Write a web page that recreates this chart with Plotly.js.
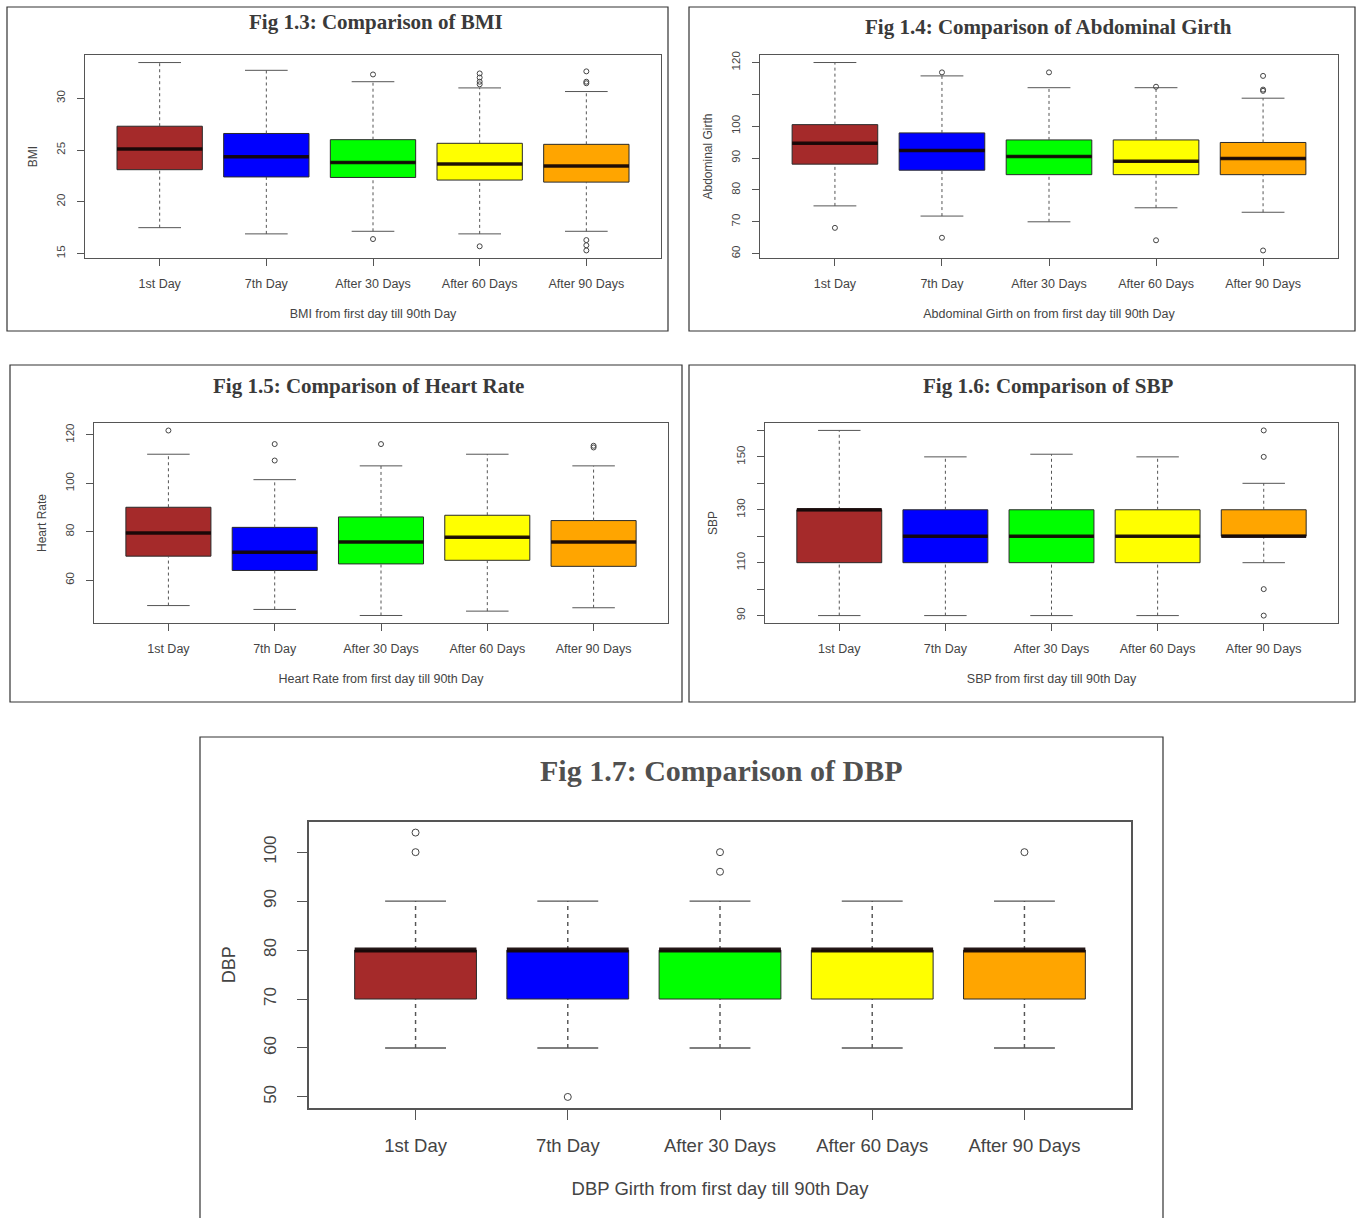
<!DOCTYPE html>
<html>
<head>
<meta charset="utf-8">
<script src="https://cdn.plot.ly/plotly-3.0.1.min.js"></script>
<style>
html,body{margin:0;padding:0;background:#ffffff;}
#chart{width:1361px;height:1218px;}
</style>
</head>
<body>
<div id="chart"></div>
<script>
// ---------- DATA ----------
const categories = ['1st Day', '7th Day', 'After 30 Days', 'After 60 Days', 'After 90 Days'];

// Fig 1.3 BMI
const bmiQ1     = [23.1, 22.4, 22.35, 22.1, 21.9];
const bmiMedian = [25.1, 24.35, 23.8, 23.65, 23.45];
const bmiQ3     = [27.3, 26.6, 26.0, 25.65, 25.55];
const bmiLower  = [17.5, 16.9, 17.15, 16.9, 17.15];
const bmiUpper  = [33.45, 32.7, 31.6, 31.0, 30.65];
const bmiOutCat = ['After 30 Days', 'After 30 Days', 'After 60 Days', 'After 60 Days', 'After 60 Days', 'After 60 Days', 'After 60 Days', 'After 90 Days', 'After 90 Days', 'After 90 Days', 'After 90 Days', 'After 90 Days', 'After 90 Days'];
const bmiOutVal = [32.3, 16.4, 32.4, 32.0, 31.6, 31.35, 15.7, 32.6, 31.6, 31.45, 16.3, 15.8, 15.3];
const bmiTickVals = [15, 20, 25, 30];
const bmiTickText = ['15', '20', '25', '30'];

// Fig 1.4 Abdominal Girth
const agQ1     = [88.1, 86.2, 84.8, 84.8, 84.8];
const agMedian = [94.65, 92.4, 90.5, 89.0, 89.9];
const agQ3     = [100.5, 97.9, 95.7, 95.7, 94.9];
const agLower  = [75.0, 71.8, 70.0, 74.4, 73.0];
const agUpper  = [120, 115.8, 112.1, 112.1, 108.8];
const agOutCat = ['1st Day', '7th Day', '7th Day', 'After 30 Days', 'After 60 Days', 'After 60 Days', 'After 90 Days', 'After 90 Days', 'After 90 Days', 'After 90 Days'];
const agOutVal = [68.1, 116.9, 65.0, 116.9, 112.4, 64.2, 115.8, 111.5, 111.1, 61.0];
const agTickVals = [60, 70, 80, 90, 100, 110, 120];
const agTickText = ['60', '70', '80', '90', '100', '', '120'];

// Fig 1.5 Heart Rate
const hrQ1     = [69.9, 64.0, 66.7, 68.2, 65.7];
const hrMedian = [79.5, 71.5, 75.8, 77.7, 75.8];
const hrQ3     = [90.1, 81.8, 86.1, 86.8, 84.6];
const hrLower  = [49.5, 47.9, 45.4, 47.2, 48.6];
const hrUpper  = [112.0, 101.5, 107.2, 112.0, 107.2];
const hrOutCat = ['1st Day', '7th Day', '7th Day', 'After 30 Days', 'After 90 Days', 'After 90 Days'];
const hrOutVal = [121.8, 116.2, 109.4, 116.2, 115.5, 114.8];
const hrTickVals = [60, 80, 100, 120];
const hrTickText = ['60', '80', '100', '120'];

// Fig 1.6 SBP
const sbpQ1     = [110, 110, 110, 110, 120];
const sbpMedian = [130, 120, 120, 120, 120];
const sbpQ3     = [130, 130, 130, 130, 130];
const sbpLower  = [90, 90, 90, 90, 110];
const sbpUpper  = [160, 150, 151, 150, 140];
const sbpOutCat = ['After 90 Days', 'After 90 Days', 'After 90 Days', 'After 90 Days'];
const sbpOutVal = [160, 150, 100, 90];
const sbpTickVals = [90, 100, 110, 120, 130, 140, 150, 160];
const sbpTickText = ['90', '', '110', '', '130', '', '150', ''];

// Fig 1.7 DBP
const dbpQ1     = [70, 70, 70, 70, 70];
const dbpMedian = [80, 80, 80, 80, 80];
const dbpQ3     = [80, 80, 80, 80, 80];
const dbpLower  = [60, 60, 60, 60, 60];
const dbpUpper  = [90, 90, 90, 90, 90];
const dbpOutCat = ['1st Day', '1st Day', '7th Day', 'After 30 Days', 'After 30 Days', 'After 90 Days'];
const dbpOutVal = [104, 100, 50, 100, 96, 100];
const dbpTickVals = [50, 60, 70, 80, 90, 100];
const dbpTickText = ['50', '60', '70', '80', '90', '100'];

// ---------- STYLE / LAYOUT ----------
const boxColors = ['#A52A2A', '#0000FF', '#00FF00', '#FFFF00', '#FFA500'];
const W = 1361, H = 1218;

const panels = [
  {id: '', q1: bmiQ1, med: bmiMedian, q3: bmiQ3, lo: bmiLower, hi: bmiUpper, oc: bmiOutCat, ov: bmiOutVal,
   tv: bmiTickVals, tt: bmiTickText, range: [14.57, 34.18], px: [85, 661], py: [55, 258],
   title: 'Fig 1.3: Comparison of BMI', tx: 376, ty: 22, ytitle: 'BMI', xtitle: 'BMI from first day till 90th Day',
   frame: [7, 7, 668, 331], big: false},
  {id: '2', q1: agQ1, med: agMedian, q3: agQ3, lo: agLower, hi: agUpper, oc: agOutCat, ov: agOutVal,
   tv: agTickVals, tt: agTickText, range: [58.64, 122.36], px: [760, 1338], py: [55, 258],
   title: 'Fig 1.4: Comparison of Abdominal Girth', tx: 1048, ty: 27, ytitle: 'Abdominal Girth', xtitle: 'Abdominal Girth on from first day till 90th Day',
   frame: [689, 7, 1355, 331], big: false},
  {id: '3', q1: hrQ1, med: hrMedian, q3: hrQ3, lo: hrLower, hi: hrUpper, oc: hrOutCat, ov: hrOutVal,
   tv: hrTickVals, tt: hrTickText, range: [42.3, 124.9], px: [94, 668], py: [423, 623],
   title: 'Fig 1.5: Comparison of Heart Rate', tx: 368, ty: 386, ytitle: 'Heart Rate', xtitle: 'Heart Rate from first day till 90th Day',
   frame: [10, 365, 682, 702], big: false},
  {id: '4', q1: sbpQ1, med: sbpMedian, q3: sbpQ3, lo: sbpLower, hi: sbpUpper, oc: sbpOutCat, ov: sbpOutVal,
   tv: sbpTickVals, tt: sbpTickText, range: [87.2, 162.8], px: [765, 1338], py: [423, 623],
   title: 'Fig 1.6: Comparison of SBP', tx: 1048, ty: 386, ytitle: 'SBP', xtitle: 'SBP from first day till 90th Day',
   frame: [689, 365, 1355, 702], big: false},
  {id: '5', q1: dbpQ1, med: dbpMedian, q3: dbpQ3, lo: dbpLower, hi: dbpUpper, oc: dbpOutCat, ov: dbpOutVal,
   tv: dbpTickVals, tt: dbpTickText, range: [47.84, 106.16], px: [309, 1131], py: [822, 1107.5],
   title: 'Fig 1.7: Comparison of DBP', tx: 721, ty: 770, ytitle: 'DBP', xtitle: 'DBP Girth from first day till 90th Day',
   frame: [200, 737, 1163, 1240], big: true}
];

const traces = [];
const layout = {
  width: W, height: H,
  margin: {l: 0, r: 0, t: 0, b: 0, pad: 0},
  paper_bgcolor: '#ffffff', plot_bgcolor: '#ffffff',
  showlegend: false, boxmode: 'overlay',
  annotations: [], shapes: []
};

panels.forEach(p => {
  const xa = 'x' + p.id, ya = 'y' + p.id;
  const pos = categories.map((c, i) => i + 1);
  const s = p.big ? 1.45 : 1;

  // boxes
  categories.forEach((c, i) => {
    traces.push({
      type: 'box', xaxis: xa, yaxis: ya, x: [pos[i]],
      q1: [p.q1[i]], median: [p.med[i]], q3: [p.q3[i]],
      lowerfence: [p.q1[i]], upperfence: [p.q3[i]],
      width: 0.8, whiskerwidth: 0, boxpoints: false,
      fillcolor: boxColors[i], line: {color: '#2a2a2a', width: 1},
      hoverinfo: 'skip', name: c
    });
  });

  // dashed whiskers, staples and thick medians
  const wx = [], wy = [], cx = [], cy = [], mx = [], my = [];
  categories.forEach((c, i) => {
    wx.push(pos[i], pos[i], null, pos[i], pos[i], null);
    wy.push(p.lo[i], p.q1[i], null, p.q3[i], p.hi[i], null);
    cx.push(pos[i] - 0.2, pos[i] + 0.2, null, pos[i] - 0.2, pos[i] + 0.2, null);
    cy.push(p.lo[i], p.lo[i], null, p.hi[i], p.hi[i], null);
    mx.push(pos[i] - 0.4, pos[i] + 0.4, null);
    my.push(p.med[i], p.med[i], null);
  });
  traces.push({type: 'scatter', mode: 'lines', xaxis: xa, yaxis: ya, x: wx, y: wy,
    line: {color: '#555', width: 1 * s, dash: p.big ? '4px,4px' : '3px,3px'}, hoverinfo: 'skip', connectgaps: false});
  traces.push({type: 'scatter', mode: 'lines', xaxis: xa, yaxis: ya, x: cx, y: cy,
    line: {color: '#555', width: 1 * s}, hoverinfo: 'skip', connectgaps: false});
  traces.push({type: 'scatter', mode: 'lines', xaxis: xa, yaxis: ya, x: mx, y: my,
    line: {color: 'rgba(20,5,5,0.92)', width: 3.5 * s}, hoverinfo: 'skip', connectgaps: false});

  // outliers
  traces.push({type: 'scatter', mode: 'markers', xaxis: xa, yaxis: ya,
    x: p.oc.map(c => categories.indexOf(c) + 1), y: p.ov,
    marker: {symbol: 'circle-open', size: p.big ? 7 : 5, color: '#444', line: {width: 1, color: '#444'}},
    hoverinfo: 'skip', cliponaxis: false});

  const xTickFont = {family: 'Liberation Sans, Arial, sans-serif', size: p.big ? 18.5 : 12.5, color: '#444'};
  const yTickFont = {family: 'Liberation Sans, Arial, sans-serif', size: p.big ? 17 : 11.5, color: '#444'};
  const xTitleFont = {family: 'Liberation Sans, Arial, sans-serif', size: p.big ? 18.5 : 12.5, color: '#444'};
  const yTitleFont = {family: 'Liberation Sans, Arial, sans-serif', size: p.big ? 18 : 12, color: '#444'};

  layout['xaxis' + p.id] = {
    domain: [p.px[0] / W, p.px[1] / W], anchor: ya,
    range: [0.3, 5.7], tickmode: 'array', tickvals: pos, ticktext: categories,
    ticks: 'outside', ticklen: p.big ? 10 : 7, tickwidth: 1, tickcolor: '#555',
    ticklabelstandoff: p.big ? 10 : 7,
    showline: true, mirror: true, linecolor: '#555', linewidth: p.big ? 2 : 1,
    showgrid: false, zeroline: false, tickfont: xTickFont,
    title: {text: p.xtitle, font: xTitleFont, standoff: p.big ? 27 : 19},
    fixedrange: true
  };
  layout['yaxis' + p.id] = {
    domain: [1 - p.py[1] / H, 1 - p.py[0] / H], anchor: xa,
    range: p.range, tickmode: 'array', tickvals: p.tv, ticktext: p.tt,
    ticks: 'outside', ticklen: p.big ? 10 : 7, tickwidth: 1, tickcolor: '#555',
    ticklabelstandoff: p.big ? 14 : 7, tickangle: -90,
    showline: true, mirror: true, linecolor: '#555', linewidth: p.big ? 2 : 1,
    showgrid: false, zeroline: false, tickfont: yTickFont,
    title: {text: p.ytitle, font: yTitleFont, standoff: p.big ? 21 : 15},
    fixedrange: true
  };

  layout.annotations.push({
    xref: 'paper', yref: 'paper', x: p.tx / W, y: 1 - p.ty / H,
    xanchor: 'center', yanchor: 'middle', showarrow: false,
    text: '<b>' + p.title + '</b>',
    font: {family: 'Liberation Serif, Times New Roman, serif', size: p.big ? 30 : 21, color: p.big ? '#505050' : '#3a3a3a'}
  });
  layout.shapes.push({
    type: 'rect', xref: 'paper', yref: 'paper',
    x0: p.frame[0] / W, x1: p.frame[2] / W, y0: 1 - p.frame[3] / H, y1: 1 - p.frame[1] / H,
    line: {color: '#333', width: 1.2}, fillcolor: 'rgba(0,0,0,0)', layer: 'below'
  });
});

Plotly.newPlot('chart', traces, layout, {staticPlot: true, displayModeBar: false});
</script>
</body>
</html>
